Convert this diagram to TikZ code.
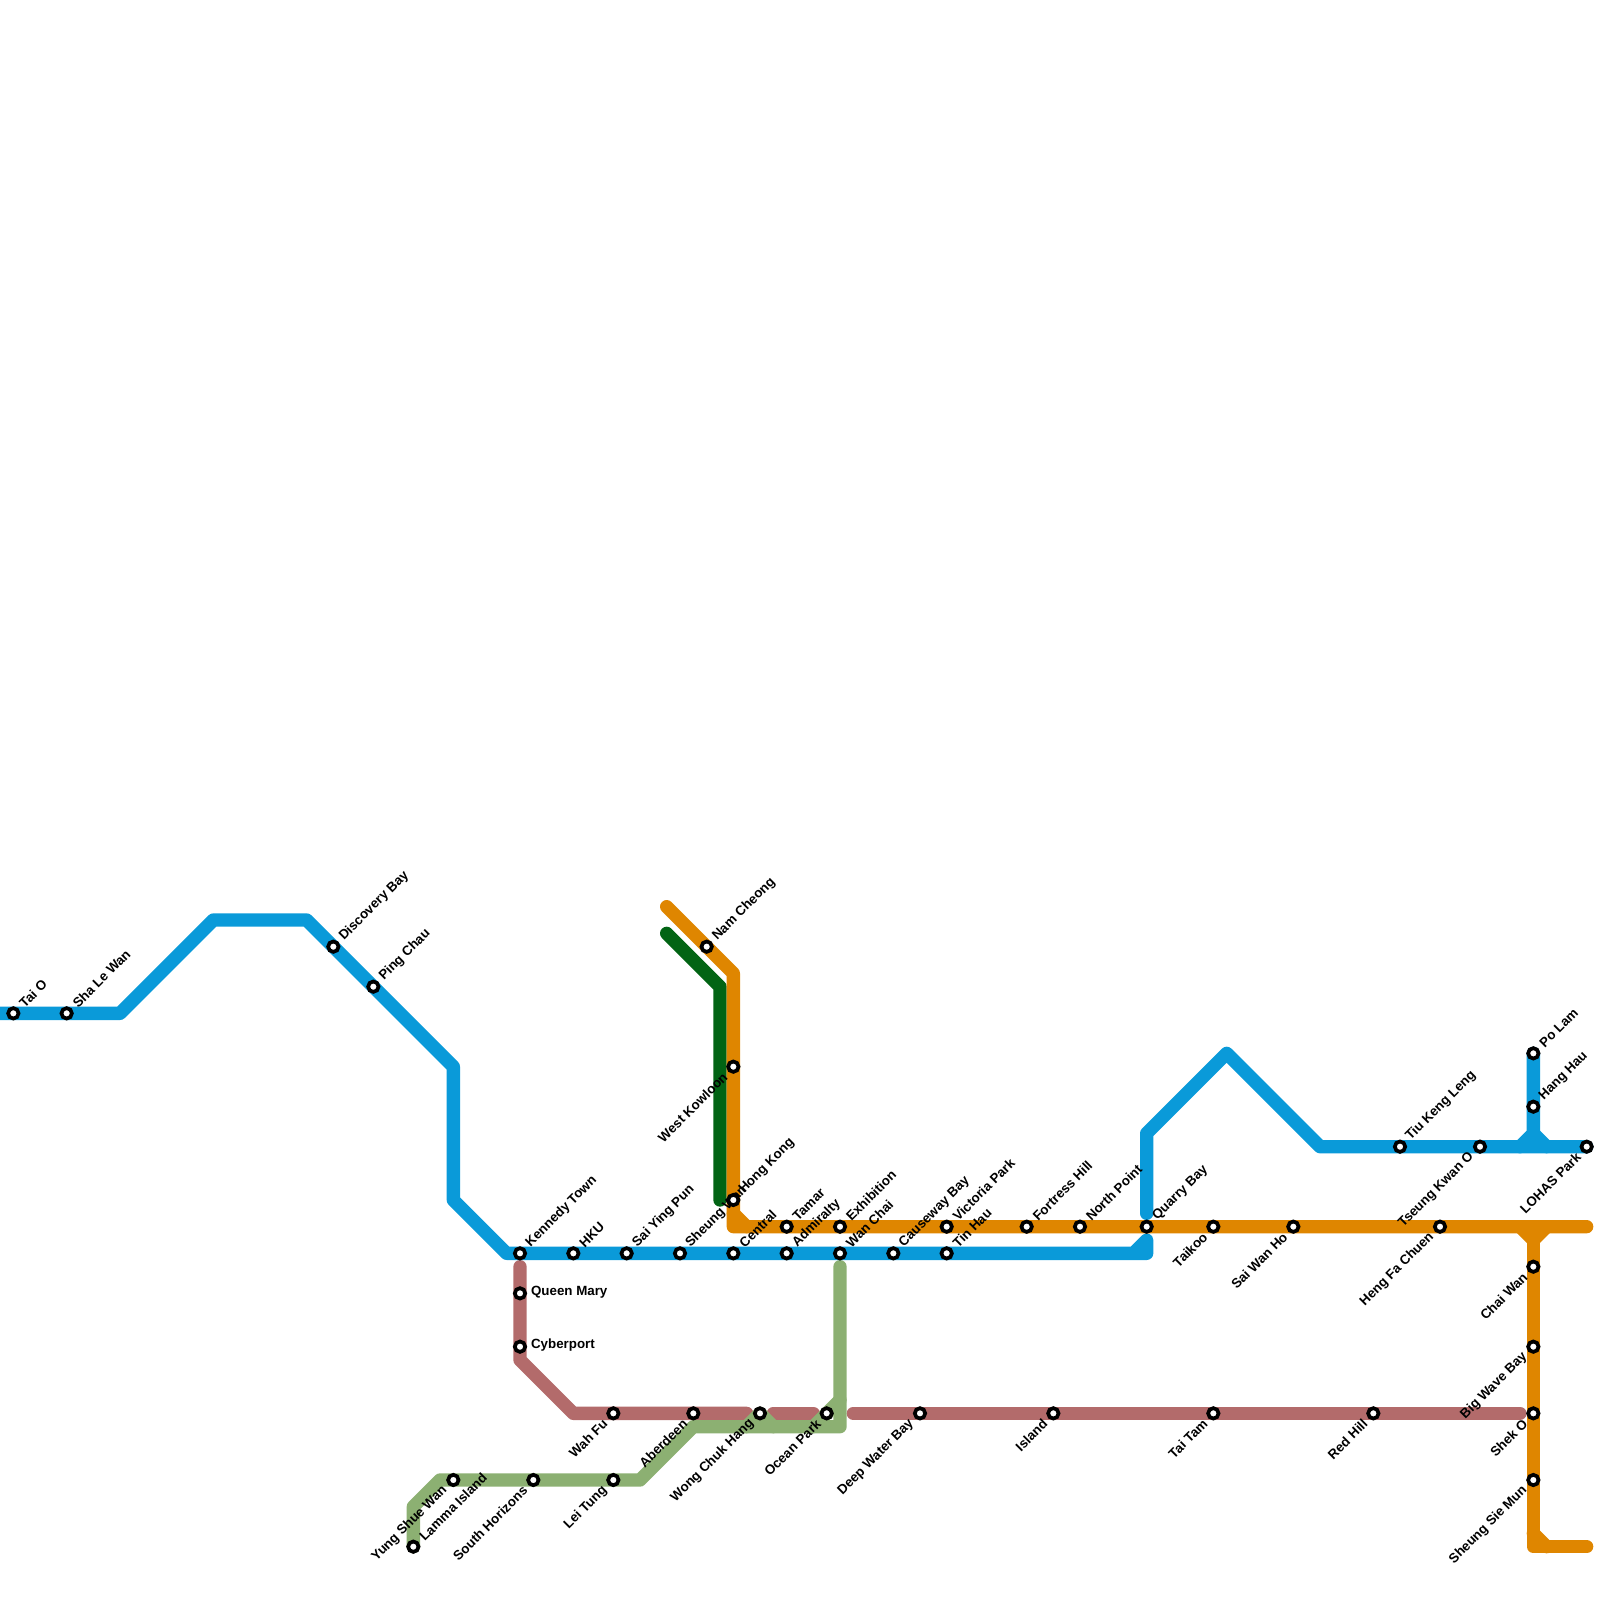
\documentclass[tikz,border=0pt]{standalone}
\usepackage{fontspec}
\setmainfont{Liberation Sans}
\usetikzlibrary{backgrounds}
\definecolor{blueline}{HTML}{0A9AD9}
\definecolor{orangeline}{HTML}{DF8600}
\definecolor{greenline}{HTML}{026414}
\definecolor{roseline}{HTML}{B36B6B}
\definecolor{sageline}{HTML}{8CB072}
\tikzset{
    metro/.style={line width=6.667pt, line cap=round, line join=round},
    station/.style={circle, draw=black, fill=white, line width=1.85pt, inner sep=0pt, minimum size=5.2pt},
    lbl/.style={inner sep=0pt, font=\fontsize{6.67}{8}\selectfont\bfseries},
}
\begin{document}
\begin{tikzpicture}[x=6.6667pt, y=-6.6667pt]
    \useasboundingbox (0, 0) rectangle (120, 120);
    \coordinate (west) at (0, 76);

    % stations, label to the upper right
    \foreach \n/\x/\y/\t in {taio/1/76/Tai O, slw/5/76/Sha Le Wan, dib/25/71/Discovery Bay, pic/28/74/Ping Chau,
        ket/39/94/Kennedy Town, hku/43/94/HKU, syp/47/94/Sai Ying Pun, shw/51/94/Sheung Wan, cen/55/94/Central,
        adm/59/94/Admiralty, wac/63/94/Wan Chai, cab/67/94/Causeway Bay, thu/71/94/Tin Hau,
        tam/59/92/Tamar, exh/63/92/Exhibition, vip/71/92/Victoria Park, foh/77/92/Fortress Hill,
        nop/81/92/North Point, qub/86/92/Quarry Bay, nac/53/71/Nam Cheong, hok/55/90/Hong Kong,
        lam/31/116/Lamma Island, tkl/105/86/Tiu Keng Leng, pol/115/79/Po Lam, hah/115/83/Hang Hau} {
        \node[station] (\n) at (\x, \y) {};
        \node[lbl, rotate=45, anchor=west] (\n-t) at ([shift={(0.6, -0.6)}]\n.center) {\t};
    }
    % stations, label to the lower left
    \foreach \n/\x/\y/\t in {tak/91/92/Taikoo, swh/97/92/Sai Wan Ho, hfc/108/92/Heng Fa Chuen, chw/115/95/Chai Wan,
        bwb/115/101/Big Wave Bay, sho/115/106/Shek O, ssm/115/111/Sheung Sie Mun, tko/111/86/Tseung Kwan O,
        loh/119/86/LOHAS Park, wkl/55/80/West Kowloon, wfu/46/106/Wah Fu, abd/52/106/Aberdeen,
        wch/57/106/Wong Chuk Hang, ocp/62/106/Ocean Park, dwb/69/106/Deep Water Bay, isl/79/106/Island,
        tat/91/106/Tai Tam, reh/103/106/Red Hill, let/46/111/Lei Tung, soh/40/111/South Horizons,
        ysw/34/111/Yung Shue Wan} {
        \node[station] (\n) at (\x, \y) {};
        \node[lbl, rotate=45, anchor=east] (\n-t) at ([shift={(-0.6, 0.6)}]\n.center) {\t};
    }
    % stations, label to the right
    \foreach \n/\x/\y/\t in {qum/39/97/Queen Mary, cyb/39/101/Cyberport} {
        \node[station] (\n) at (\x, \y) {};
        \node[lbl, anchor=west] (\n-t) at ([shift={(0.8, -0.1)}]\n.center) {\t};
    }

    \begin{scope}[on background layer]
        % rose line
        \draw[metro, roseline] (39, 95) -- (cyb.center) -- (39, 102) -- (43, 106) -- (56, 106);
        \draw[metro, roseline] (58, 106) -- (61, 106);
        \draw[metro, roseline] (64, 106) -- (114, 106);
        % sage line
        \draw[metro, sageline] (63, 95) -- (63, 107) -- (52, 107) -- (48, 111) -- (33, 111) -- (31, 113) -- (lam.center);
        \draw[metro, sageline] (56, 107) -- (wch.center) -- (58, 107);
        \draw[metro, sageline] (61, 107) -- (63, 105);
        % blue line
        \draw[metro, blueline] (west) -- (9, 76) -- (16, 69) -- (23, 69) -- (34, 80) -- (34, 90) -- (38, 94) -- (86, 94) -- (86, 93) -- (85, 94);
        \draw[metro, blueline] (86, 91) -- (86, 85) -- (92, 79) -- (99, 86) -- (loh.center);
        \draw[metro, blueline] (pol.center) -- (115, 85) -- (114, 86);
        \draw[metro, blueline] (115, 85) -- (116, 86);
        % dark green line
        \draw[metro, greenline] (50, 70) -- (54, 74) -- (54, 90);
        % orange line
        \draw[metro, orangeline] (50, 68) -- (55, 73) -- (55, 92) -- (119, 92);
        \draw[metro, orangeline] (55, 91) -- (56, 92);
        \draw[metro, orangeline] (114, 92) -- (115, 93) -- (116, 92);
        \draw[metro, orangeline] (115, 93) -- (115, 116) -- (119, 116);
        \draw[metro, orangeline] (115, 115) -- (116, 116);
    \end{scope}
\end{tikzpicture}
\end{document}
